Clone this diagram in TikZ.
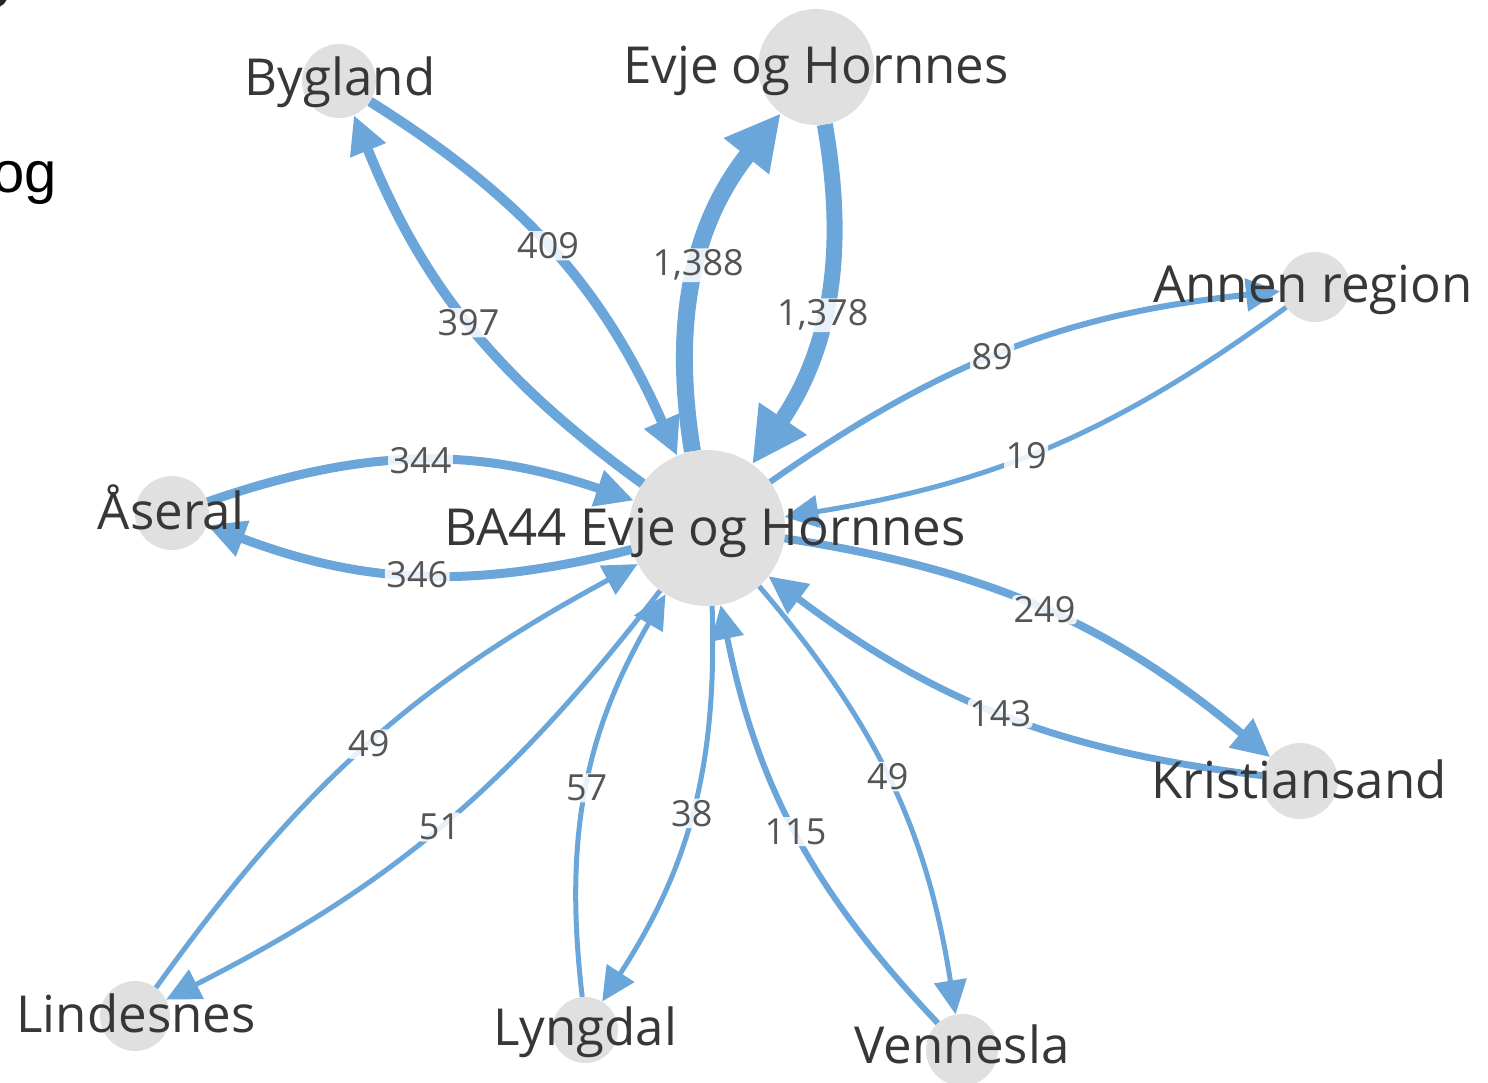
\documentclass[tikz,border=0pt]{standalone}
\usepackage{fontspec}
\setmainfont{Open Sans}
\newfontfamily\ogfont{Liberation Sans}
\usetikzlibrary{arrows.meta}
\definecolor{eblue}{RGB}{106,166,218}
\definecolor{ngray}{RGB}{224,224,224}
\definecolor{ntext}{RGB}{55,55,55}
\definecolor{ltext}{RGB}{85,85,85}
\begin{document}
\begin{tikzpicture}[x=1pt,y=-1pt,
  circ/.style={circle, fill=ngray, inner sep=0pt, draw=none},
  nlab/.style={anchor=base, inner sep=0pt, text=ntext, font=\fontsize{51}{60}\selectfont},
  elab/.style={inner sep=1.5pt, text=ltext, fill=white, fill opacity=0.85, text opacity=1, rounded corners=4pt, font=\fontsize{36}{40}\selectfont},
  edge/.style={draw=eblue},
  tipS/.style={-{Triangle[length=34pt,width=32pt]}},
  tipM/.style={-{Triangle[length=38pt,width=36pt]}},
  tipL/.style={-{Triangle[length=55pt,width=54pt]}}]
\useasboundingbox (0,0) rectangle (1488,1082);
\clip (0,0) rectangle (1488,1082);
\fill[black!85] (-6,-6) circle (14);
\node[anchor=base east, inner sep=0pt, font=\ogfont\fontsize{58}{64}\selectfont] (og) at (57,192) {og};

% circles
\node[circ, minimum size=156pt] (ba) at (707,528) {};
\node[circ, minimum size=74pt] (byg) at (339,81) {};
\node[circ, minimum size=116pt] (evj) at (816,67) {};
\node[circ, minimum size=70pt] (ann) at (1315,287) {};
\node[circ, minimum size=74pt] (ase) at (172,513) {};
\node[circ, minimum size=76pt] (kri) at (1300,781) {};
\node[circ, minimum size=70pt] (lin) at (135,1016) {};
\node[circ, minimum size=66pt] (lyn) at (585,1030) {};
\node[circ, minimum size=72pt] (ven) at (962,1050) {};

% edges
\draw[edge, line width=17pt, tipL] (ba) to[bend left=24] node[elab, pos=0.52]{1,388} (evj);
\draw[edge, line width=16pt, tipL] (evj) to[bend left=22] node[elab, pos=0.54]{1,378} (ba);
\draw[edge, line width=10pt, tipM] (byg) to[bend left=17] node[elab, pos=0.48]{409} (ba);
\draw[edge, line width=10pt, tipM] (ba) to[bend left=16] node[elab]{397} (byg);
\draw[edge, line width=6pt, tipS] (ba) to[bend left=14.5] node[elab, pos=0.46]{89} (ann);
\draw[edge, line width=5pt, tipS] (ann) to[bend left=13.5] node[elab, pos=0.55]{19} (ba);
\draw[edge, line width=9pt, tipM] (ase) to[bend left=19] node[elab]{344} (ba);
\draw[edge, line width=9pt, tipM] (ba) to[bend left=17.5] node[elab]{346} (ase);
\draw[edge, line width=8pt, tipM] (ba) to[bend left=15.5] node[elab]{249} (kri);
\draw[edge, line width=7pt, tipM] (kri) to[bend left=15] node[elab]{143} (ba);
\draw[edge, line width=5pt, tipS] (lin) to[bend left=13] node[elab]{49} (ba);
\draw[edge, line width=5pt, tipS] (ba) to[bend left=12.7] node[elab]{51} (lin);
\draw[edge, line width=5pt, tipS] (lyn) to[bend left=18.4] node[elab]{57} (ba);
\draw[edge, line width=5pt, tipS] (ba) to[bend left=17.4] node[elab]{38} (lyn);
\draw[edge, line width=6pt, tipS] (ven) to[bend left=16] node[elab]{115} (ba);
\draw[edge, line width=5pt, tipS] (ba) to[bend left=15.8] node[elab, pos=0.48]{49} (ven);

% node labels
\node[nlab] (baT) at (705,545) {BA44 Evje og Hornnes};
\node[nlab] (bygT) at (340,95) {Bygland};
\node[nlab] (evjT) at (816,83) {Evje og Hornnes};
\node[nlab] (annT) at (1313,302) {Annen region};
\node[nlab] (aseT) at (171,529) {Åseral};
\node[nlab] (kriT) at (1299,798) {Kristiansand};
\node[nlab] (linT) at (136,1032) {Lindesnes};
\node[nlab] (lynT) at (585,1045) {Lyngdal};
\node[nlab] (venT) at (962,1063) {Vennesla};
\end{tikzpicture}
\end{document}
